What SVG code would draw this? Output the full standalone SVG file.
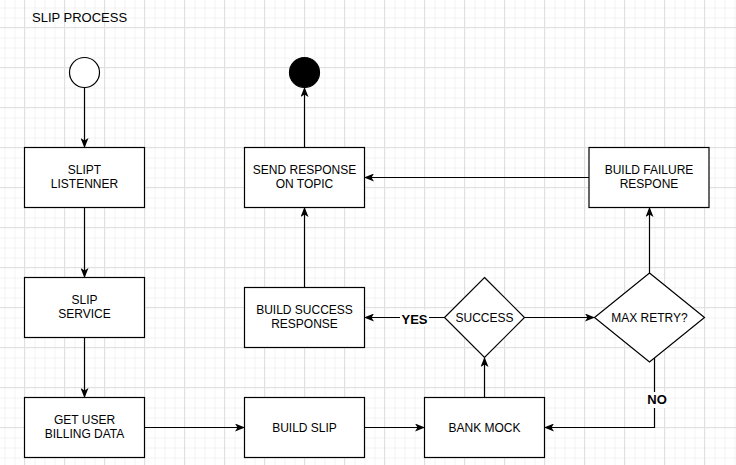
<svg xmlns="http://www.w3.org/2000/svg" width="736" height="465" viewBox="0 0 736 465">
<style>
.box{fill:#fff;stroke:#000;stroke-width:1.2}
.t{font-family:"Liberation Sans",Arial,sans-serif;font-size:12px;fill:#000;text-anchor:middle}
.lbl{font-family:"Liberation Sans",Arial,sans-serif;font-size:13px;font-weight:bold;fill:#000;text-anchor:middle}
.c{fill:none;stroke:#000;stroke-width:1.2}
</style>
<defs>
<pattern id="minor" x="4.5" y="7.5" width="10" height="10" patternUnits="userSpaceOnUse">
<path d="M0.5,0 V10 M0,0.5 H10" stroke="#f2f2f2" stroke-width="1" fill="none"/>
</pattern>
<pattern id="major" x="24" y="27" width="40" height="40" patternUnits="userSpaceOnUse">
<path d="M0.5,0 V40 M0,0.5 H40" stroke="#e0e0e0" stroke-width="1" fill="none"/>
</pattern>
<marker id="arr" viewBox="0 0 10 8" refX="9" refY="4" markerWidth="10" markerHeight="8" markerUnits="userSpaceOnUse" orient="auto">
<path d="M0,0 L10,4 L0,8 L2.5,4 z" fill="#000"/>
</marker>
</defs>
<rect width="736" height="465" fill="#fff"/>
<rect width="736" height="465" fill="url(#minor)"/>
<rect width="736" height="465" fill="url(#major)"/>
<text x="32" y="22" font-family="Liberation Sans,Arial,sans-serif" font-size="13" fill="#000">SLIP PROCESS</text>
<g id="connectors">
<path class="c" d="M84.5,87.5 V147" marker-end="url(#arr)"/>
<path class="c" d="M84.5,207.5 V277" marker-end="url(#arr)"/>
<path class="c" d="M84.5,337.5 V397" marker-end="url(#arr)"/>
<path class="c" d="M144.5,427.5 H244" marker-end="url(#arr)"/>
<path class="c" d="M364.5,427.5 H424" marker-end="url(#arr)"/>
<path class="c" d="M484.5,397.5 V358" marker-end="url(#arr)"/>
<path class="c" d="M444.5,317.5 H365" marker-end="url(#arr)"/>
<path class="c" d="M524.5,317.5 H594" marker-end="url(#arr)"/>
<path class="c" d="M649.5,273 V208" marker-end="url(#arr)"/>
<path class="c" d="M654.5,358 V427.5 H545" marker-end="url(#arr)"/>
<path class="c" d="M589,177.5 H365" marker-end="url(#arr)"/>
<path class="c" d="M304.5,287.5 V208" marker-end="url(#arr)"/>
<path class="c" d="M304.5,147.5 V88" marker-end="url(#arr)"/>
<rect x="400" y="310" width="29" height="16" fill="#fff"/>
<text class="lbl" x="414.5" y="324.3">YES</text>
<rect x="646" y="392" width="22" height="16" fill="#fff"/>
<text class="lbl" x="657" y="404.3">NO</text>
</g>
<g id="start"><circle cx="84.5" cy="72.5" r="15" class="box"/></g>
<g id="end"><circle cx="304.5" cy="72.5" r="15" fill="#000" stroke="#000" stroke-width="1.2"/></g>
<g id="slipt-listener"><rect class="box" x="24.5" y="147.5" width="120" height="60"/><text class="t" x="84.5" y="174.3">SLIPT</text><text class="t" x="84.5" y="188.3">LISTENNER</text></g>
<g id="slip-service"><rect class="box" x="24.5" y="277.5" width="120" height="60"/><text class="t" x="84.5" y="304.3">SLIP</text><text class="t" x="84.5" y="318.3">SERVICE</text></g>
<g id="get-user"><rect class="box" x="24.5" y="397.5" width="120" height="60"/><text class="t" x="84.5" y="424.3">GET USER</text><text class="t" x="84.5" y="438.3">BILLING DATA</text></g>
<g id="build-slip"><rect class="box" x="244.5" y="397.5" width="120" height="60"/><text class="t" x="304.5" y="431.5">BUILD SLIP</text></g>
<g id="bank-mock"><rect class="box" x="424.5" y="397.5" width="120" height="60"/><text class="t" x="484.5" y="431.5">BANK MOCK</text></g>
<g id="success"><path class="box" d="M484.5,277.5 L524.5,317.5 L484.5,357.5 L444.5,317.5 Z"/><text class="t" x="484.5" y="321.5">SUCCESS</text></g>
<g id="max-retry"><path class="box" d="M649.5,273 L704.5,317.5 L649.5,362 L594.5,317.5 Z"/><text class="t" x="649.5" y="321.5">MAX RETRY?</text></g>
<g id="build-success"><rect class="box" x="244.5" y="287.5" width="120" height="60"/><text class="t" x="304.5" y="314.3">BUILD SUCCESS</text><text class="t" x="304.5" y="328.3">RESPONSE</text></g>
<g id="send-response"><rect class="box" x="244.5" y="147.5" width="120" height="60"/><text class="t" x="304.5" y="174.3">SEND RESPONSE</text><text class="t" x="304.5" y="188.3">ON TOPIC</text></g>
<g id="build-failure"><rect class="box" x="589" y="147.5" width="120" height="60"/><text class="t" x="649" y="174.3">BUILD FAILURE</text><text class="t" x="649" y="188.3">RESPONE</text></g>
</svg>
